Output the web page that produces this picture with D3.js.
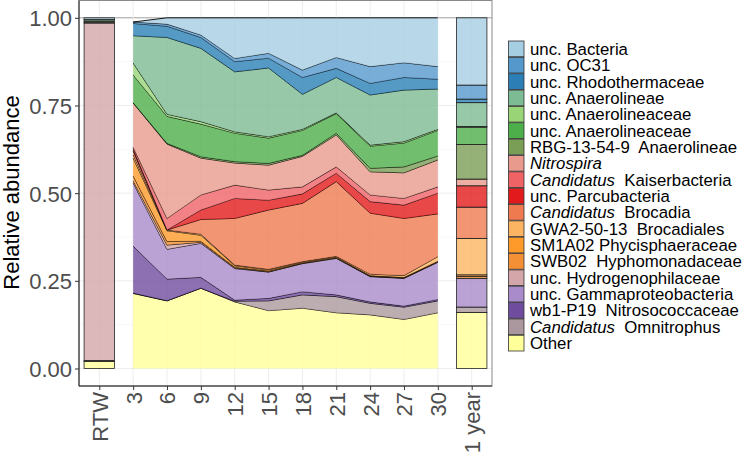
<!DOCTYPE html>
<html><head><meta charset="utf-8">
<script src="https://cdn.jsdelivr.net/npm/d3@7"></script>
<style>body{margin:0;background:#fff}svg{display:block;font-family:"Liberation Sans",Arial,sans-serif}</style>
</head><body><svg id="c" width="743" height="458"></svg>
<script>
// ---- data ----
const categories = ["RTW","3","6","9","12","15","18","21","24","27","30","1 year"];
const barCategories = ["RTW","1 year"];
const yTicks = [0, 0.25, 0.5, 0.75, 1];
const yTickLabels = ["0.00","0.25","0.50","0.75","1.00"];

// values per category (RTW, 3..30, 1 year)
const uncBacteria        = [0.005,0.000,0.018,0.049,0.116,0.101,0.149,0.113,0.139,0.128,0.139,0.192];
const uncOC31            = [0.000,0.004,0.006,0.007,0.009,0.014,0.021,0.031,0.048,0.042,0.036,0.040];
const uncRhodothermaceae = [0.000,0.035,0.032,0.031,0.029,0.028,0.048,0.026,0.033,0.036,0.028,0.010];
const uncAnaerolineae    = [0.004,0.078,0.219,0.209,0.171,0.196,0.100,0.101,0.143,0.147,0.115,0.068];
const uncAnaerolineaceae1= [0.000,0.034,0.006,0.007,0.004,0.004,0.003,0.002,0.003,0.004,0.003,0.002];
const uncAnaerolineaceae2= [0.003,0.079,0.077,0.093,0.081,0.072,0.071,0.056,0.063,0.068,0.073,0.049];
const rbg13549           = [0.000,0.001,0.002,0.004,0.004,0.005,0.003,0.005,0.010,0.017,0.011,0.099];
const nitrospira         = [0.003,0.126,0.212,0.105,0.063,0.071,0.087,0.091,0.066,0.073,0.077,0.019];
const kaiserbacteria     = [0.000,0.005,0.033,0.043,0.038,0.029,0.020,0.018,0.019,0.019,0.018,0.000];
const parcubacteria      = [0.000,0.006,0.000,0.027,0.057,0.028,0.027,0.024,0.033,0.038,0.059,0.061];
const brocadia           = [0.000,0.011,0.000,0.042,0.133,0.169,0.166,0.213,0.174,0.163,0.122,0.089];
const gwa25013           = [0.000,0.009,0.002,0.003,0.002,0.002,0.002,0.002,0.004,0.005,0.013,0.104];
const sm1a02             = [0.000,0.051,0.031,0.017,0.004,0.003,0.002,0.002,0.001,0.001,0.001,0.005];
const swb02              = [0.000,0.014,0.010,0.003,0.002,0.002,0.001,0.001,0.001,0.001,0.001,0.005];
const hydrogenophilaceae = [0.962,0.006,0.012,0.003,0.002,0.001,0.001,0.001,0.001,0.001,0.001,0.000];
const gammaproteobacteria= [0.000,0.180,0.085,0.097,0.090,0.075,0.080,0.104,0.072,0.079,0.106,0.082];
const wb1P19             = [0.000,0.134,0.062,0.031,0.003,0.007,0.009,0.005,0.004,0.003,0.004,0.000];
const omnitrophus        = [0.003,0.001,0.000,0.000,0.002,0.028,0.038,0.046,0.033,0.035,0.034,0.015];
const other              = [0.020,0.214,0.193,0.229,0.190,0.165,0.172,0.159,0.153,0.140,0.159,0.160];

// legend labels: segments [text, italic]
const legendLabels = [
  [["unc. Bacteria",0]],
  [["unc. OC31",0]],
  [["unc. Rhodothermaceae",0]],
  [["unc. Anaerolineae",0]],
  [["unc. Anaerolineaceae",0]],
  [["unc. Anaerolineaceae",0]],
  [["RBG-13-54-9  Anaerolineae",0]],
  [["Nitrospira",1]],
  [["Candidatus",1],["  Kaiserbacteria",0]],
  [["unc. Parcubacteria",0]],
  [["Candidatus",1],["  Brocadia",0]],
  [["GWA2-50-13  Brocadiales",0]],
  [["SM1A02 Phycisphaeraceae",0]],
  [["SWB02  Hyphomonadaceae",0]],
  [["unc. Hydrogenophilaceae",0]],
  [["unc. Gammaproteobacteria",0]],
  [["wb1-P19  Nitrosococcaceae",0]],
  [["Candidatus",1],["  Omnitrophus",0]],
  [["Other",0]]
];
const seriesValues = [uncBacteria,uncOC31,uncRhodothermaceae,uncAnaerolineae,uncAnaerolineaceae1,
  uncAnaerolineaceae2,rbg13549,nitrospira,kaiserbacteria,parcubacteria,brocadia,gwa25013,sm1a02,swb02,
  hydrogenophilaceae,gammaproteobacteria,wb1P19,omnitrophus,other];
const seriesColors = ["#a6cee3","#5599cc","#2b7fb6","#7dbb94","#99d477","#4daf4a","#7a9e55","#e89a8c",
  "#ef6366","#e31a1c","#ef7a50","#fdb462","#fe9a2a","#f39036","#d4a6a9","#a98bcb","#6f4c9e","#ab989e","#ffff99"];

// ---- build ----
const svg = d3.select("#c");
const P = {l:79, r:492, t:0.5, b:386};
const x = d3.scalePoint().domain(categories).range([P.l, P.r]).padding(0.6);
const step = x.step();
const y = d3.scaleLinear().domain([0,1]).range([368.5, 17.8]);

const keys = seriesValues.map((_,i)=>"s"+i);
const rows = categories.map((c,ci)=>{const r={cat:c}; seriesValues.forEach((v,i)=>r["s"+i]=v[ci]); return r;});
const bottomUp = keys.slice().reverse();
const stacked = d3.stack().keys(bottomUp)(rows);

// grid
const g = svg.append("g");
const minor = [0.125,0.375,0.625,0.875];
g.selectAll(".mn").data(minor).join("line").attr("x1",P.l).attr("x2",P.r)
  .attr("y1",d=>y(d)).attr("y2",d=>y(d)).attr("stroke","#f3f3f3").attr("stroke-width",0.6);
g.selectAll(".mj").data(yTicks).join("line").attr("x1",P.l).attr("x2",P.r)
  .attr("y1",d=>y(d)).attr("y2",d=>y(d)).attr("stroke",d=>d===1?"#a0a0a0":"#ebebeb").attr("stroke-width",d=>d===1?1:0.9);
g.selectAll(".vx").data(categories).join("line").attr("y1",P.t).attr("y2",P.b)
  .attr("x1",d=>x(d)).attr("x2",d=>x(d)).attr("stroke","#ebebeb").attr("stroke-width",0.9);

// areas
const areaCats = categories.filter(c=>!barCategories.includes(c));
const area = d3.area().x(d=>x(d.data.cat)).y0(d=>y(d[0])).y1(d=>y(d[1]));
const line = d3.line().x(d=>x(d.data.cat)).y(d=>y(d[1]));
stacked.forEach(layer=>{
  const idx = +layer.key.slice(1);
  const pts = layer.filter(d=>areaCats.includes(d.data.cat));
  svg.append("path").attr("d",area(pts)).attr("fill",seriesColors[idx]).attr("fill-opacity",0.8);
  svg.append("path").attr("d",line(pts)).attr("fill","none").attr("stroke","#000").attr("stroke-width",0.9);
});

// bars
const bw = step*0.9;
stacked.forEach(layer=>{
  const idx = +layer.key.slice(1);
  layer.filter(d=>barCategories.includes(d.data.cat) && d[1]-d[0]>0).forEach(d=>{
    svg.append("rect").attr("x",x(d.data.cat)-bw/2).attr("width",bw)
      .attr("y",y(d[1])).attr("height",y(d[0])-y(d[1]))
      .attr("fill",seriesColors[idx]).attr("fill-opacity",0.8)
      .attr("stroke","#222").attr("stroke-width",0.8);
  });
});

// panel border
svg.append("rect").attr("x",P.l).attr("y",P.t).attr("width",P.r-P.l).attr("height",P.b-P.t)
  .attr("fill","none").attr("stroke","#8a8a8a").attr("stroke-width",1);
svg.append("line").attr("x1",P.l).attr("x2",P.l).attr("y1",P.t).attr("y2",P.b).attr("stroke","#222").attr("stroke-width",1);
svg.append("line").attr("x1",P.l).attr("x2",P.r).attr("y1",P.b).attr("y2",P.b).attr("stroke","#222").attr("stroke-width",1);

// y axis
const yAxis = svg.append("g").attr("transform",`translate(${P.l},0)`)
  .call(d3.axisLeft(y).tickValues(yTicks).tickFormat((d,i)=>yTickLabels[i]).tickSize(4).tickPadding(3));
yAxis.select(".domain").remove();
yAxis.selectAll(".tick line").attr("stroke","#333");
yAxis.selectAll("text").attr("fill","#4d4d4d").style("font-size","22px").attr("dy","0.36em");

// x axis
const xAxis = svg.append("g").attr("transform",`translate(0,${P.b})`)
  .call(d3.axisBottom(x).tickSize(4).tickPadding(3));
xAxis.select(".domain").remove();
xAxis.selectAll(".tick line").attr("stroke","#333");
xAxis.selectAll("text").attr("fill","#4d4d4d").style("font-size","22px")
  .attr("transform","rotate(-90)").attr("text-anchor","end")
  .attr("x",-6).attr("y",0).attr("dy","0.36em");

// y title
svg.append("text").attr("transform","translate(19,192.5) rotate(-90)")
  .attr("text-anchor","middle").style("font-size","22px").attr("fill","#000").text("Relative abundance");

// legend
const L = {x:508.5, y:41, step:16.35, w:15.5, h:15.7};
const lg = svg.append("g");
legendLabels.forEach((segs,i)=>{
  const yy = L.y + i*L.step;
  lg.append("rect").attr("x",L.x).attr("y",yy).attr("width",L.w).attr("height",L.h)
    .attr("fill",seriesColors[i]).attr("stroke","#333").attr("stroke-width",0.8);
  const t = lg.append("text").attr("x",530).attr("y",yy+L.h/2).attr("dy","0.36em")
    .style("font-size","16.8px").style("white-space","pre").attr("fill","#000");
  segs.forEach(s=>t.append("tspan").text(s[0]).style("font-style",s[1]?"italic":"normal"));
});
</script></body></html>
